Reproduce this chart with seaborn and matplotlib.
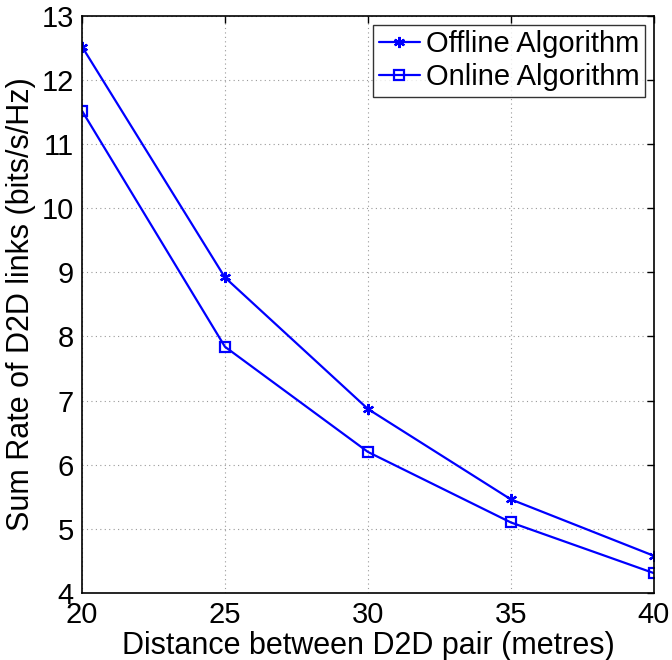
import matplotlib
matplotlib.use("Agg")
import matplotlib.pyplot as plt
import seaborn as sns
import numpy as np

distance = [20, 25, 30, 35, 40]
offline = [12.52, 8.92, 6.87, 5.46, 4.58]
online = [11.52, 7.84, 6.20, 5.10, 4.31]
series_names = ["Offline Algorithm", "Online Algorithm"]

sns.set_style("white")
plt.rcParams['font.family'] = ['Liberation Sans', 'DejaVu Sans']
plt.rcParams['text.color'] = 'black'
plt.rcParams['axes.labelcolor'] = 'black'

fig = plt.figure(figsize=(6.72, 6.6), dpi=100)
ax = fig.add_axes([0.122, 0.1015, 0.851, 0.8745])

sns.lineplot(x=distance, y=offline, ax=ax, color=(0, 0, 1), lw=1.6,
             marker=(6, 2, 0), markersize=8, markeredgewidth=1.6,
             markeredgecolor=(0, 0, 1), label=series_names[0])
sns.lineplot(x=distance, y=online, ax=ax, color=(0, 0, 1), lw=1.6,
             marker='s', markersize=7.5, markerfacecolor='none',
             markeredgewidth=1.6, markeredgecolor=(0, 0, 1), label=series_names[1])

ax.set_xlim(20, 40)
ax.set_ylim(4, 13)
ax.set_xticks([20, 25, 30, 35, 40])
ax.set_yticks(range(4, 14))
ax.tick_params(direction='in', length=5, width=1, labelsize=21, top=True, right=True,
               pad=6, colors='black')
ax.grid(True, color='#999999', linestyle=(0, (1, 3)), linewidth=0.8)
for s in ax.spines.values():
    s.set_color('black')
    s.set_linewidth(1.2)
ax.set_xlabel("Distance between D2D pair (metres)", fontsize=22, labelpad=1, color='black')
ax.set_ylabel("Sum Rate of D2D links (bits/s/Hz)", fontsize=22, labelpad=4, color='black')

leg = ax.legend(loc='upper right', fontsize=21, frameon=True, fancybox=False,
                edgecolor='black', handlelength=1.4, handletextpad=0.2,
                borderpad=0.2, labelspacing=0.15, borderaxespad=0.3)
leg.get_frame().set_linewidth(1.0)
for t in leg.get_texts():
    t.set_color('black')

fig.savefig("out.png", dpi=100)
